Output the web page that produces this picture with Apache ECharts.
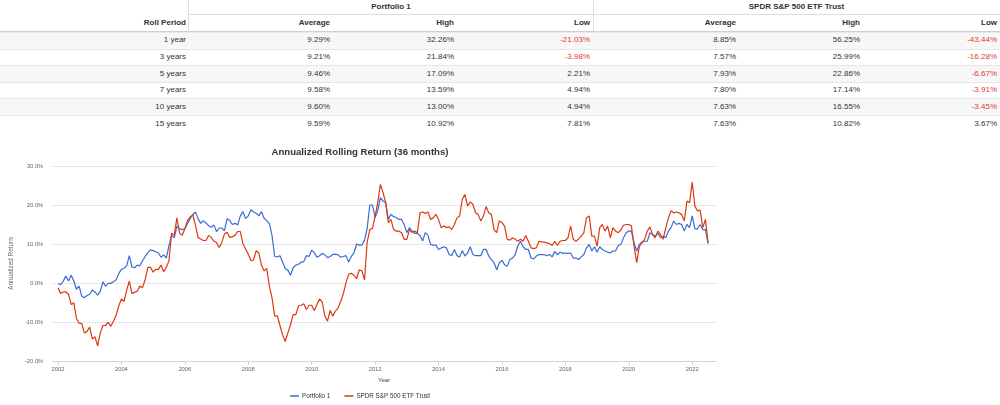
<!DOCTYPE html>
<html><head><meta charset="utf-8">
<script src="https://cdn.jsdelivr.net/npm/echarts@6/dist/echarts.min.js"></script>
<style>
html,body{margin:0;padding:0;background:#fff;width:1000px;height:405px;overflow:hidden;font-family:"Liberation Sans",Arial,sans-serif;}
#tbl{position:absolute;left:0;top:0;width:1000px;height:133px;}
.c{position:absolute;font-size:8px;color:#333;text-align:right;white-space:nowrap;box-sizing:border-box;padding-right:3px;}
.h{font-weight:bold;}
.ln{position:absolute;}
#chart{position:absolute;left:0;top:135px;width:720px;height:270px;}
</style></head><body>
<div id="tbl"></div><div id="chart"></div>
<script>
// ---------- table data ----------
const groupNames = ['Portfolio 1', 'SPDR S&P 500 ETF Trust'];
const statNames = ['Average', 'High', 'Low'];
const rollPeriods = ['1 year', '3 years', '5 years', '7 years', '10 years', '15 years'];
const p1Avg  = [9.29, 9.21, 9.46, 9.58, 9.60, 9.59];
const p1High = [32.26, 21.84, 17.09, 13.59, 13.00, 10.92];
const p1Low  = [-21.03, -3.98, 2.21, 4.94, 4.94, 7.81];
const spyAvg  = [8.85, 7.57, 7.93, 7.80, 7.63, 7.63];
const spyHigh = [56.25, 25.99, 22.86, 17.14, 16.55, 10.82];
const spyLow  = [-43.44, -16.28, -6.67, -3.91, -3.45, 3.67];

// ---------- chart data ----------
const chartTitle = 'Annualized Rolling Return (36 months)';
const seriesNames = ['Portfolio 1', 'SPDR S&P 500 ETF Trust'];
const startYear = 2002; // monthly points from Jan 2002
const xTicks = [2002, 2004, 2006, 2008, 2010, 2012, 2014, 2016, 2018, 2020, 2022];
const p1Rolling = [
 -0.2,-0.4,0.5,1.8,0.5,2.0,0.5,-1.6,-0.8,-3.4,
 -3.8,-3.2,-2.9,-1.8,-2.3,-3.1,-2.1,0.3,-0.8,-0.1,
 -0.1,0.3,0.8,2.4,3.5,3.8,4.4,7.0,4.1,3.9,
 4.6,4.4,5.7,6.8,7.8,8.5,8.3,8.0,7.7,6.6,
 7.2,6.4,9.6,12.2,11.6,14.6,13.9,13.7,13.9,15.2,
 16.5,17.5,18.2,16.5,15.3,16.0,15.4,14.7,14.3,14.9,
 13.2,14.1,14.1,13.4,16.5,16.0,15.0,15.3,14.9,17.2,
 18.3,16.5,17.2,18.8,18.2,17.9,17.2,18.3,16.6,16.0,
 15.2,12.2,6.8,6.7,7.0,5.4,3.7,3.3,2.0,3.9,
 4.6,4.8,5.3,5.5,7.0,6.8,8.4,7.8,6.6,7.0,
 7.6,7.2,6.5,6.8,7.3,7.4,7.2,6.6,6.8,7.0,
 5.4,6.8,7.7,10.0,9.7,9.7,11.0,14.0,20.0,20.0,
 16.8,18.5,21.9,21.0,20.6,16.3,17.6,17.0,16.8,16.3,
 16.3,15.0,12.9,14.2,13.3,12.7,12.7,12.1,10.8,12.9,
 12.2,9.9,9.7,9.7,8.6,9.0,9.3,9.0,7.3,7.0,
 8.6,7.0,6.7,8.3,6.9,7.7,9.3,7.3,7.0,7.0,
 7.0,8.6,8.6,6.9,6.0,5.2,3.4,5.2,5.8,4.7,
 4.3,6.0,6.4,7.3,9.5,10.7,9.3,8.6,8.6,6.4,
 6.2,6.9,7.3,7.3,7.3,7.0,7.3,6.7,8.1,7.3,
 7.9,7.6,7.7,7.6,7.7,6.4,
 6.4,6.0,6.7,7.3,9.0,9.9,8.2,9.3,7.9,9.3,
 8.6,8.2,7.9,7.7,8.2,8.2,9.6,9.9,11.6,12.9,
 13.3,13.3,10.3,8.2,9.9,10.5,10.7,10.7,12.9,12.4,
 12.0,12.7,11.6,12.0,11.6,13.3,14.2,15.9,15.0,15.3,
 15.0,13.3,15.0,14.2,17.2,13.9,13.9,15.0,13.7,13.7,
 10.1
];
const spyRolling = [
 -1.2,-2.7,-2.3,-2.3,-2.9,-5.5,-5.1,-9.1,-10.3,-10.4,
 -12.8,-12.4,-11.3,-14.4,-13.8,-16.1,-12.8,-10.9,-10.9,-10.1,
 -11.1,-9.8,-8.3,-5.9,-4.1,-4.7,-1.8,0.5,-2.7,-2.4,
 -2.1,-0.8,-1.2,0.9,4.0,4.0,2.8,3.5,3.5,4.6,
 2.9,4.0,5.7,12.8,12.2,16.7,12.8,12.2,13.9,16.0,
 16.9,17.5,14.9,11.7,11.3,10.9,10.9,12.2,11.7,10.7,
 10.4,9.1,10.4,12.6,13.0,11.7,11.9,12.2,13.2,13.2,
 10.0,8.7,7.4,5.7,5.9,8.3,7.7,4.6,3.1,3.7,
 -0.8,-3.8,-8.5,-8.4,-10.9,-13.3,-15.0,-12.8,-10.7,-8.1,
 -8.1,-5.9,-5.7,-5.3,-6.8,-5.7,-5.7,-7.1,-5.5,-4.1,
 -4.9,-8.5,-9.8,-7.0,-8.5,-7.2,-6.4,-4.7,-2.7,0.1,
 2.2,2.5,2.0,1.1,3.4,3.1,0.8,10.5,13.7,14.0,
 17.0,20.6,25.3,23.2,20.6,15.5,16.3,13.7,13.3,13.3,
 12.9,11.2,11.2,13.7,13.0,13.3,12.9,18.0,18.2,17.8,
 18.2,16.3,16.7,17.6,16.3,14.2,14.6,14.2,14.4,13.7,
 15.0,16.7,17.2,21.5,22.7,19.7,20.8,20.2,18.0,17.6,
 15.9,17.2,19.6,18.0,17.6,13.7,12.9,15.9,15.5,14.6,
 11.2,11.0,11.6,11.2,10.7,11.2,10.7,12.2,10.7,9.0,
 8.8,9.0,10.7,10.5,10.5,10.3,10.1,9.6,10.7,9.6,
 10.7,10.9,10.9,11.6,14.6,11.2,
 10.7,11.3,12.0,12.9,16.7,17.2,12.0,12.0,9.4,14.2,
 15.0,13.3,14.6,11.6,14.2,13.3,12.9,13.6,14.8,15.0,
 15.0,14.6,9.4,5.2,9.4,10.3,11.2,13.3,14.4,12.4,
 11.6,13.3,12.4,11.2,14.2,16.7,18.5,18.0,18.2,18.0,
 17.6,15.9,21.0,20.6,25.9,19.7,18.5,18.7,14.2,16.3,
 10.3
];

// ---------- build table ----------
(function(){
  const tbl = document.getElementById('tbl');
  const colX = [0, 189, 333, 457, 593, 739, 863, 1000];
  function cell(txt, x0, x1, top, h, cls, extra){
    const d = document.createElement('div');
    d.className = 'c ' + (cls||'');
    d.style.left = x0 + 'px'; d.style.width = (x1 - x0) + 'px';
    d.style.top = top + 'px'; d.style.height = h + 'px'; d.style.lineHeight = h + 'px';
    if (extra) Object.assign(d.style, extra);
    d.textContent = txt;
    tbl.appendChild(d);
    return d;
  }
  function line(x, y, w, h, color){
    const d = document.createElement('div');
    d.className = 'ln';
    d.style.left = x + 'px'; d.style.top = y + 'px';
    d.style.width = w + 'px'; d.style.height = h + 'px';
    d.style.background = color;
    tbl.appendChild(d);
  }
  const rowTop = 32.4, rowH = 16.63;
  const cols = [p1Avg, p1High, p1Low, spyAvg, spyHigh, spyLow];
  rollPeriods.forEach((rp, r) => {
    const t = rowTop + r * rowH;
    if (r % 2 === 0) line(0, t, 1000, rowH, '#f7f7f7');
    if (r < rollPeriods.length - 1) line(0, t + rowH - 0.5, 1000, 1, '#e6e6e6');
    cell(rp, colX[0], colX[1], t, rowH);
    cols.forEach((arr, c) => {
      const v = arr[r];
      cell(v.toFixed(2) + '%', colX[c+1], colX[c+2], t, rowH, '', v < 0 ? {color:'#e8352e'} : null);
    });
  });
  // header
  cell('Roll Period', colX[0], colX[1], 14, 18, 'h');
  cell(groupNames[0], colX[1], colX[4], 0, 13, 'h', {textAlign:'center', paddingRight:'0'});
  cell(groupNames[1], colX[4], colX[7], 0, 13, 'h', {textAlign:'center', paddingRight:'0'});
  for (let g = 0; g < 2; g++) statNames.forEach((s, i) => cell(s, colX[1+g*3+i], colX[2+g*3+i], 14, 18, 'h'));
  line(189, 14, 811, 1, '#dedede');
  line(188, 0, 1, 31, '#dedede');
  line(593, 0, 1, 31, '#dedede');
  line(0, 31, 1000, 1, '#cfcfcf');
  line(0, 32, 1000, 1, '#e9e9e9');
})();

// ---------- chart ----------
const chart = echarts.init(document.getElementById('chart'));
const toPts = arr => arr.map((v, i) => [startYear + i / 12, v]);
const FF = 'Liberation Sans';
chart.setOption({
  animation: false,
  textStyle: {fontFamily: FF},
  title: {text: chartTitle, left: 'center', top: 7,
    textStyle: {fontSize: 9.6, fontWeight: 'bold', color: '#333', fontFamily: FF}},
  legend: {bottom: 1, left: 'center', icon: 'rect', itemWidth: 9, itemHeight: 1.5, itemGap: 14,
    textStyle: {fontSize: 6.3, color: '#333', fontFamily: FF, padding: [0,0,0,-2]}, data: seriesNames},
  grid: {left: 46.7, right: 4, top: 31, bottom: 44},
  xAxis: {type: 'value', min: 2001.82, max: 2022.75,
    name: 'Year', nameLocation: 'middle', nameGap: 13,
    nameTextStyle: {fontSize: 6, color: '#444', fontFamily: FF},
    axisLine: {onZero: false, lineStyle: {color: '#ccd6eb'}},
    axisTick: {show: true, length: 4, customValues: xTicks, lineStyle: {color: '#ccd6eb'}},
    axisLabel: {customValues: xTicks, formatter: v => String(Math.round(v)), fontSize: 5.8, color: '#666', margin: 5, fontFamily: FF},
    splitLine: {show: false}},
  yAxis: {type: 'value', min: -20, max: 30, interval: 10,
    name: 'Annualized Return', nameLocation: 'middle', nameGap: 32,
    nameTextStyle: {fontSize: 6.4, color: '#666', fontFamily: FF},
    axisLine: {show: false}, axisTick: {show: false},
    axisLabel: {formatter: v => v.toFixed(1) + '%', fontSize: 5.8, color: '#666', margin: 9, fontFamily: FF},
    splitLine: {lineStyle: {color: '#e6e6e6'}}},
  series: [
    {name: seriesNames[0], type: 'line', data: toPts(p1Rolling), showSymbol: false,
      lineStyle: {width: 1.2, color: '#3a6bd4'}, itemStyle: {color: '#3a6bd4'}},
    {name: seriesNames[1], type: 'line', data: toPts(spyRolling), showSymbol: false,
      lineStyle: {width: 1.2, color: '#dc3912'}, itemStyle: {color: '#dc3912'}}
  ]
});
</script>
</body></html>
